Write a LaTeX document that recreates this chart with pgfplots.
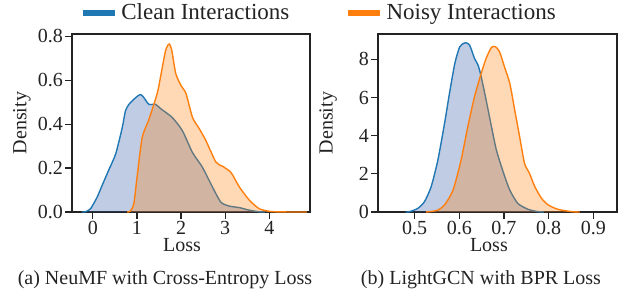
\documentclass[border=0pt]{standalone}
\usepackage{pgfplots}
\pgfplotsset{compat=1.18}
\usepackage{fontspec}
\setmainfont{Liberation Serif}
\definecolor{cblue}{RGB}{31,119,180}
\definecolor{corange}{RGB}{255,127,14}
\definecolor{bfill}{RGB}{45,85,165}
\definecolor{ofill}{RGB}{255,127,14}
\definecolor{framec}{RGB}{35,35,35}
\pgfplotsset{
  kde/.style={
    scale only axis,
    width=119pt, height=89pt,
    axis line style={framec, line width=0.6pt},
    tick style={framec, line width=0.6pt},
    tick align=outside,
    major tick length=3.5pt,
    xtick pos=bottom, ytick pos=left,
    /pgf/number format/assume math mode=true,
    ticklabel style={font=\fontsize{10}{12}\selectfont, text=framec},
    xticklabel style={yshift=2.5pt},
    yticklabel style={xshift=2.5pt},
    label style={font=\fontsize{10}{12}\selectfont, text=framec},
    xlabel={Loss}, ylabel={Density},
    ymin=0,
    clip=true,
  },
  bline/.style={cblue, line width=0.7pt, line join=round, smooth, tension=0.4},
  oline/.style={corange, line width=0.7pt, line join=round, smooth, tension=0.4},
  bfl/.style={fill=bfill, fill opacity=0.3, draw=none, forget plot, smooth, tension=0.4},
  ofl/.style={fill=ofill, fill opacity=0.3, draw=none, forget plot, smooth, tension=0.4},
}
\begin{document}
\begin{tikzpicture}
\path[use as bounding box] (0,0) rectangle (312pt,148pt);
% ---------- (a) NeuMF ----------
\begin{axis}[kde, at={(36pt,42pt)}, anchor=south west,
  xmin=-0.47, xmax=4.92, ymax=0.81,
  xtick={0,1,2,3,4}, ytick={0,0.2,0.4,0.6,0.8},
  yticklabel style={/pgf/number format/.cd, fixed, fixed zerofill, precision=1},
  xlabel style={at={(axis description cs:0.462,-0.185)}, anchor=center},
  ylabel style={at={(axis description cs:-0.21,0.5)}, anchor=center},
  legend columns=2,
  legend style={at={(axis description cs:1.042,1.118)}, anchor=center, draw=none, fill=none,
    font=\fontsize{11.5}{13}\selectfont, text=framec,
    /tikz/every even column/.append style={column sep=26pt},
    inner sep=0pt},
  legend image code/.code={\draw[#1, line width=2.6pt] (0pt,0pt) -- (16pt,0pt);},
]
\addplot[bfl] coordinates {(-0.25,0) (-0.17,0.001) (-0.05,0.015) (0.10,0.068) (0.21,0.12) (0.36,0.19) (0.52,0.265) (0.67,0.386) (0.74,0.46) (0.82,0.49) (0.97,0.52) (1.08,0.535) (1.16,0.52) (1.27,0.49) (1.42,0.49) (1.54,0.47) (1.80,0.43) (2.03,0.37) (2.26,0.27) (2.48,0.205) (2.71,0.114) (2.90,0.045) (3.09,0.027) (3.32,0.02) (3.55,0.008) (3.77,0.001) (3.9,0)} \closedcycle;
\addplot[bline] coordinates {(-0.25,0) (-0.17,0.001) (-0.05,0.015) (0.10,0.068) (0.21,0.12) (0.36,0.19) (0.52,0.265) (0.67,0.386) (0.74,0.46) (0.82,0.49) (0.97,0.52) (1.08,0.535) (1.16,0.52) (1.27,0.49) (1.42,0.49) (1.54,0.47) (1.80,0.43) (2.03,0.37) (2.26,0.27) (2.48,0.205) (2.71,0.114) (2.90,0.045) (3.09,0.027) (3.32,0.02) (3.55,0.008) (3.77,0.001) (3.9,0)};
\addlegendentry{Clean Interactions}
\addplot[ofl] coordinates {(0.78,0) (0.85,0.004) (0.93,0.038) (1.01,0.17) (1.12,0.34) (1.27,0.42) (1.46,0.54) (1.54,0.62) (1.65,0.735) (1.73,0.765) (1.79,0.735) (1.88,0.63) (2.0,0.575) (2.11,0.54) (2.26,0.43) (2.41,0.38) (2.56,0.326) (2.79,0.227) (2.94,0.208) (3.13,0.18) (3.32,0.114) (3.55,0.053) (3.77,0.015) (4.0,0.003) (4.23,0.0005) (4.85,0)} \closedcycle;
\addplot[oline] coordinates {(0.78,0) (0.85,0.004) (0.93,0.038) (1.01,0.17) (1.12,0.34) (1.27,0.42) (1.46,0.54) (1.54,0.62) (1.65,0.735) (1.73,0.765) (1.79,0.735) (1.88,0.63) (2.0,0.575) (2.11,0.54) (2.26,0.43) (2.41,0.38) (2.56,0.326) (2.79,0.227) (2.94,0.208) (3.13,0.18) (3.32,0.114) (3.55,0.053) (3.77,0.015) (4.0,0.003) (4.23,0.0005) (4.85,0)};
\addlegendentry{Noisy Interactions}
\end{axis}
% ---------- (b) LightGCN ----------
\begin{axis}[kde, at={(189pt,42pt)}, anchor=south west, width=119.5pt,
  xmin=0.418, xmax=0.953, ymax=9.33,
  xtick={0.5,0.6,0.7,0.8,0.9}, ytick={0,2,4,6,8},
  xticklabel style={/pgf/number format/.cd, fixed, fixed zerofill, precision=1},
  xlabel style={at={(axis description cs:0.464,-0.185)}, anchor=center},
  ylabel style={at={(axis description cs:-0.209,0.5)}, anchor=center},
]
\addplot[bfl] coordinates {(0.48,0) (0.489,0.02) (0.507,0.19) (0.522,0.54) (0.537,1.33) (0.552,2.72) (0.567,4.65) (0.578,6.22) (0.590,7.79) (0.601,8.66) (0.613,8.87) (0.623,8.75) (0.634,8.05) (0.642,7.70) (0.649,7.09) (0.660,5.87) (0.672,4.47) (0.683,3.25) (0.698,2.11) (0.713,1.15) (0.731,0.45) (0.754,0.14) (0.776,0.02) (0.79,0)} \closedcycle;
\addplot[bline] coordinates {(0.48,0) (0.489,0.02) (0.507,0.19) (0.522,0.54) (0.537,1.33) (0.552,2.72) (0.567,4.65) (0.578,6.22) (0.590,7.79) (0.601,8.66) (0.613,8.87) (0.623,8.75) (0.634,8.05) (0.642,7.70) (0.649,7.09) (0.660,5.87) (0.672,4.47) (0.683,3.25) (0.698,2.11) (0.713,1.15) (0.731,0.45) (0.754,0.14) (0.776,0.02) (0.79,0)};
\addplot[ofl] coordinates {(0.525,0) (0.538,0.03) (0.552,0.10) (0.567,0.37) (0.586,1.15) (0.604,2.72) (0.619,4.47) (0.634,6.04) (0.649,7.27) (0.660,8.05) (0.672,8.63) (0.681,8.66) (0.690,8.40) (0.701,7.62) (0.713,6.74) (0.724,5.35) (0.735,3.95) (0.746,2.55) (0.757,2.03) (0.769,1.33) (0.784,0.72) (0.799,0.37) (0.821,0.14) (0.851,0.02) (0.87,0)} \closedcycle;
\addplot[oline] coordinates {(0.525,0) (0.538,0.03) (0.552,0.10) (0.567,0.37) (0.586,1.15) (0.604,2.72) (0.619,4.47) (0.634,6.04) (0.649,7.27) (0.660,8.05) (0.672,8.63) (0.681,8.66) (0.690,8.40) (0.701,7.62) (0.713,6.74) (0.724,5.35) (0.735,3.95) (0.746,2.55) (0.757,2.03) (0.769,1.33) (0.784,0.72) (0.799,0.37) (0.821,0.14) (0.851,0.02) (0.87,0)};
\end{axis}
\node[font=\fontsize{10}{12}\selectfont, text=framec] at (82.5pt,8pt) {(a) NeuMF with Cross-Entropy Loss};
\node[font=\fontsize{10}{12}\selectfont, text=framec] at (240.5pt,8pt) {(b) LightGCN with BPR Loss};
\end{tikzpicture}
\end{document}
